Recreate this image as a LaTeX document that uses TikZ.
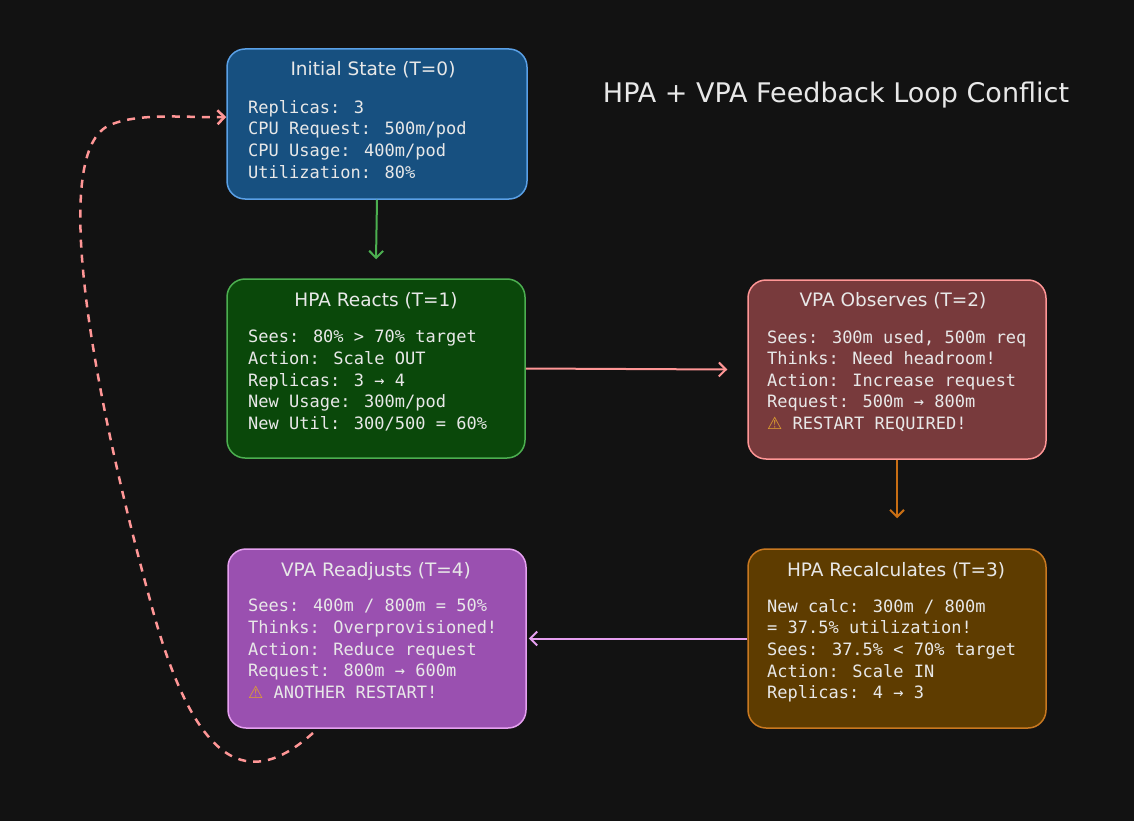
\documentclass[tikz,border=0pt]{standalone}
\usepackage{fontspec}
\setmainfont{DejaVu Sans}
\newfontfamily\monof{DejaVu Sans Mono}
\usetikzlibrary{arrows.meta}
\definecolor{bg}{HTML}{121212}
\definecolor{txt}{HTML}{E8E8E8}
\definecolor{f1}{HTML}{175080}\definecolor{d1}{HTML}{5AA0E6}
\definecolor{f2}{HTML}{0A480A}\definecolor{d2}{HTML}{4CAF50}
\definecolor{f3}{HTML}{783A3C}\definecolor{d3}{HTML}{FF9696}
\definecolor{f4}{HTML}{5E3C00}\definecolor{d4}{HTML}{C87820}
\definecolor{f5}{HTML}{9A50B0}\definecolor{d5}{HTML}{E6A0F0}
\definecolor{ao}{HTML}{C86E14}
\newcommand{\warn}{{\color[HTML]{E0A030}\fontspec{DejaVu Sans}⚠}}
\begin{document}
\begin{tikzpicture}[x=1pt,y=-1pt,
 box/.style={line width=1.5pt,rounded corners=18pt,minimum width=298pt,minimum height=179pt,inner sep=0pt},
 ttl/.style={text=txt,font=\fontsize{18.5}{20}\selectfont},
 body/.style={text=txt,anchor=north west,align=left,inner sep=0pt,font=\monof\fontsize{17}{21.6}\selectfont},
 arr/.style={line width=2pt,-{Straight Barb[length=7pt,width=14pt]}}]
\useasboundingbox[fill=bg] (0,0) rectangle (1134,821);
\node[text=txt,font=\fontsize{27}{30}\selectfont] (title) at (836,95) {HPA + VPA Feedback Loop Conflict};
% boxes
\node[box,draw=d1,fill=f1,minimum width=300pt,minimum height=150pt] (b1) at (377,124) {};
\node[box,draw=d2,fill=f2] (b2) at (376,368.5) {};
\node[box,draw=d3,fill=f3] (b3) at (897,369.5) {};
\node[box,draw=d4,fill=f4] (b4) at (897,638.5) {};
\node[box,draw=d5,fill=f5] (b5) at (377,638.5) {};
% titles
\node[ttl] (t1) at (373,70) {Initial State (T=0)};
\node[ttl] (t2) at (376,301) {HPA Reacts (T=1)};
\node[ttl] (t3) at (893,301) {VPA Observes (T=2)};
\node[ttl] (t4) at (896,571) {HPA Recalculates (T=3)};
\node[ttl] (t5) at (376,571) {VPA Readjusts (T=4)};
% bodies
\node[body] (c1) at (248,100) {Replicas: 3\\CPU Request: 500m/pod\\CPU Usage: 400m/pod\\Utilization: 80\%};
\node[body] (c2) at (248,330) {Sees: 80\% > 70\% target\\Action: Scale OUT\\Replicas: 3 → 4\\New Usage: 300m/pod\\New Util: 300/500 = 60\%};
\node[body] (c3) at (767,330) {Sees: 300m used, 500m req\\Thinks: Need headroom!\\Action: Increase request\\Request: 500m → 800m\\\warn{} RESTART REQUIRED!};
\node[body] (c4) at (767,599) {New calc: 300m / 800m\\= 37.5\% utilization!\\Sees: 37.5\% < 70\% target\\Action: Scale IN\\Replicas: 4 → 3};
\node[body] (c5) at (248,599) {Sees: 400m / 800m = 50\%\\Thinks: Overprovisioned!\\Action: Reduce request\\Request: 800m → 600m\\\warn{} ANOTHER RESTART!};
% connectors
\draw[arr,draw=d2] (b1.south) -- ([yshift=19pt]b2.north);
\draw[arr,draw=d3] (b2.east) -- ([xshift=-20pt]b3.west);
\draw[arr,draw=ao] (b3.south) -- ([yshift=30pt]b4.north);
\draw[arr,draw=d5] (b4.west) -- ([xshift=2pt]b5.east);
\coordinate (l0) at (313,733);
\draw[arr,dash pattern=on 8pt off 7pt,line width=2.5pt,draw=d3]
 (l0) .. controls (260,780) and (200,790) .. (150,600)
 .. controls (90,380) and (50,150) .. (110,125)
 .. controls (140,112) and (190,118) .. (b1.west|-0,117);
\end{tikzpicture}
\end{document}
